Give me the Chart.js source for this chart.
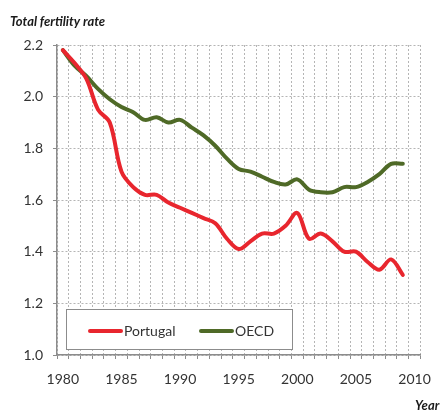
<!DOCTYPE html>
<html>
<head>
<meta charset="utf-8">
<script src="https://cdn.jsdelivr.net/npm/chart.js@4/dist/chart.umd.min.js"></script>
<style>
html,body{margin:0;padding:0;background:#fff;}
#wrap{width:443px;height:412px;}
</style>
</head>
<body>
<div id="wrap"><canvas id="c" width="443" height="412"></canvas></div>
<script>
const years = ['1980','1981','1982','1983','1984','1985','1986','1987','1988','1989','1990','1991','1992','1993','1994','1995','1996','1997','1998','1999','2000','2001','2002','2003','2004','2005','2006','2007','2008','2009','2010'];
const portugal = [2.18,2.13,2.07,1.95,1.90,1.71,1.65,1.62,1.62,1.59,1.57,1.55,1.53,1.51,1.45,1.41,1.44,1.47,1.47,1.50,1.55,1.45,1.47,1.44,1.40,1.40,1.36,1.33,1.37,1.31,null];
const oecd = [2.18,2.12,2.08,2.03,1.99,1.96,1.94,1.91,1.92,1.90,1.91,1.88,1.85,1.81,1.76,1.72,1.71,1.69,1.67,1.66,1.68,1.64,1.63,1.63,1.65,1.65,1.67,1.70,1.74,1.74,null];
const yTitle = 'Total fertility rate';
const xTitle = 'Year';

const FONT = 'Lato, "Open Sans", sans-serif';

const extras = {
  id: 'extras',
  afterDraw(chart) {
    const ctx = chart.ctx;
    const a = chart.chartArea;
    ctx.save();
    // titles
    ctx.fillStyle = '#1a1a1a';
    ctx.font = 'italic bold 13px ' + FONT;
    ctx.textAlign = 'left';
    ctx.textBaseline = 'alphabetic';
    ctx.fillText(yTitle, 10, 26);
    ctx.fillText(xTitle, 415, 410);
    // legend box
    const bx = a.left + 9, by = a.bottom - 46, bw = 226, bh = 40;
    ctx.fillStyle = '#ffffff';
    ctx.fillRect(bx, by, bw, bh);
    ctx.strokeStyle = '#8c8c8c';
    ctx.lineWidth = 1;
    ctx.strokeRect(bx + 0.5, by + 0.5, bw, bh);
    const cy = by + 22;
    const items = chart.data.datasets;
    const xs = [bx + 24, bx + 135];
    ctx.font = '14px ' + FONT;
    ctx.textBaseline = 'middle';
    items.forEach((ds, i) => {
      ctx.strokeStyle = ds.borderColor;
      ctx.lineWidth = 4;
      ctx.lineCap = 'round';
      ctx.beginPath();
      ctx.moveTo(xs[i], cy);
      ctx.lineTo(xs[i] + 31, cy);
      ctx.stroke();
      ctx.fillStyle = '#333';
      ctx.fillText(ds.label, xs[i] + 34, cy);
    });
    ctx.restore();
  }
};

new Chart(document.getElementById('c'), {
  type: 'line',
  data: {
    labels: years,
    datasets: [
      { label: 'Portugal', data: portugal, borderColor: '#e8262e', backgroundColor: '#e8262e', borderWidth: 4, pointRadius: 0, tension: 0.35, borderCapStyle: 'round', borderJoinStyle: 'round' },
      { label: 'OECD', data: oecd, borderColor: '#4f6a27', backgroundColor: '#4f6a27', borderWidth: 4, pointRadius: 0, tension: 0.35, borderCapStyle: 'round', borderJoinStyle: 'round' }
    ]
  },
  options: {
    responsive: false,
    animation: false,
    layout: { padding: { top: 45, right: 14, left: 0, bottom: 0 } },
    plugins: { legend: { display: false }, tooltip: { enabled: false }, title: { display: false } },
    scales: {
      x: {
        type: 'category',
        offset: true,
        grid: { offset: true, color: '#b5b5b5', lineWidth: 1, tickLength: 4, tickColor: '#8c8c8c', tickBorderDash: [] },
        border: { display: true, color: '#8c8c8c', width: 1.5, dash: [2, 2] },
        ticks: {
          autoSkip: false, maxRotation: 0, minRotation: 0, padding: 12,
          color: '#333', font: { family: FONT, size: 14 },
          callback: function(v, i) { const l = years[i]; return (parseInt(l) % 5 === 0) ? l : ''; }
        },
        afterFit(s) { s.height = 57; }
      },
      y: {
        min: 1.0, max: 2.2,
        grid: { color: '#b5b5b5', lineWidth: 1, tickLength: 4, tickColor: '#8c8c8c', tickBorderDash: [] },
        border: { display: true, color: '#8c8c8c', width: 1.5, dash: [2, 2] },
        ticks: { stepSize: 0.2, padding: 10, color: '#333', font: { family: FONT, size: 14 }, callback: v => v.toFixed(1) },
        afterFit(s) { s.width = 57; }
      }
    }
  },
  plugins: [extras]
});
</script>
</body>
</html>
